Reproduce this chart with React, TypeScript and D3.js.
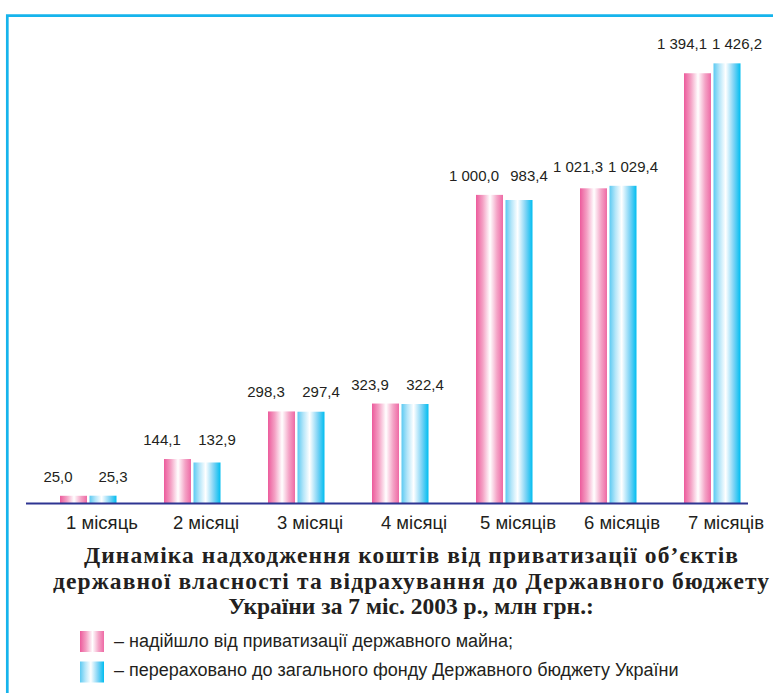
import React from 'react';
import * as d3 from 'd3';

const WIDTH = 774;
const HEIGHT = 693;

// дані з діаграми, млн грн
const months = ['1 місяць', '2 місяці', '3 місяці', '4 місяці', '5 місяців', '6 місяців', '7 місяців'];
const received = [25.0, 144.1, 298.3, 323.9, 1000.0, 1021.3, 1394.1];
const transferred = [25.3, 132.9, 297.4, 322.4, 983.4, 1029.4, 1426.2];

const titleLines = [
  'Динаміка надходження коштів від приватизації об’єктів',
  'державної власності та відрахування до  Державного бюджету',
  'України за 7 міс. 2003 р., млн грн.:',
];
// ширина рядків заголовка в оригіналі (останній рядок — природна)
const titleWidths = [654, 716, undefined];
const legendLabels = [
  '– надійшло від приватизації державного майна;',
  '– перераховано до загального фонду Державного бюджету України',
];

const frameColor = '#16b4ec';
const axisColor = '#2e3592';
const textColor = '#231f20';
const sans = '"Liberation Sans", Arial, sans-serif';
const serif = '"Liberation Serif", "Times New Roman", serif';

const fmt = d3
  .formatLocale({ decimal: ',', thousands: ' ', grouping: [3], currency: ['', ''] })
  .format(',.1f');

const BASE = 503.5;
const BAR_W = 27;

const App = () => {
  const xScale = d3.scaleBand<string>().domain(months).range([36, 764]);
  const yScale = d3.scaleLinear().domain([0, 1450]).range([BASE, 56]);

  const half = xScale.bandwidth() / 2;

  return (
    <svg
      width={WIDTH}
      height={HEIGHT}
      viewBox={`0 0 ${WIDTH} ${HEIGHT}`}
      style={{ position: 'absolute', left: 0, top: 0, background: '#fff' }}
    >
      <defs>
        <linearGradient id="pinkGrad" x1="0" x2="1" y1="0" y2="0">
          <stop offset="0%" stopColor="#ec5b9c" />
          <stop offset="25%" stopColor="#f4a0c4" />
          <stop offset="52%" stopColor="#ffffff" />
          <stop offset="78%" stopColor="#f4a3c6" />
          <stop offset="100%" stopColor="#ee6aa5" />
        </linearGradient>
        <linearGradient id="blueGrad" x1="0" x2="1" y1="0" y2="0">
          <stop offset="0%" stopColor="#5ccaf2" />
          <stop offset="22%" stopColor="#b5e6f9" />
          <stop offset="45%" stopColor="#ffffff" />
          <stop offset="75%" stopColor="#7dd3f5" />
          <stop offset="100%" stopColor="#00bdf0" />
        </linearGradient>
      </defs>

      {/* рамка */}
      <path d={`M7.3,${HEIGHT} V15.7 H773`} fill="none" stroke={frameColor} strokeWidth={2.7} />

      {months.map((m, i) => {
        const c = (xScale(m) as number) + half;
        const top = Math.min(yScale(received[i]), yScale(transferred[i]));
        return (
          <g key={m}>
            <rect
              x={c - BAR_W - 1}
              y={yScale(received[i])}
              width={BAR_W}
              height={BASE - yScale(received[i])}
              fill="url(#pinkGrad)"
            />
            <rect
              x={c + 1.5}
              y={yScale(transferred[i])}
              width={BAR_W}
              height={BASE - yScale(transferred[i])}
              fill="url(#blueGrad)"
            />
            <text
              x={c - 30}
              y={top - 14}
              textAnchor="middle"
              fontFamily={sans}
              fontSize={15}
              fill={textColor}
            >
              {fmt(received[i])}
            </text>
            <text
              x={c + 25}
              y={top - 14}
              textAnchor="middle"
              fontFamily={sans}
              fontSize={15}
              fill={textColor}
            >
              {fmt(transferred[i])}
            </text>
            <text
              x={c + 14}
              y={529}
              textAnchor="middle"
              fontFamily={sans}
              fontSize={18.5}
              fill={textColor}
            >
              {m}
            </text>
          </g>
        );
      })}

      <line x1={26} x2={748} y1={BASE} y2={BASE} stroke={axisColor} strokeWidth={2} />

      {titleLines.map((t, i) => (
        <text
          key={t}
          x={411}
          y={563 + i * 25.5}
          textAnchor="middle"
          fontFamily={serif}
          fontWeight="bold"
          fontSize={23.5}
          textLength={titleWidths[i]}
          lengthAdjust={titleWidths[i] ? 'spacing' : undefined}
          fill={textColor}
        >
          {t}
        </text>
      ))}

      {legendLabels.map((t, i) => (
        <g key={t} transform={`translate(0, ${i * 30.5})`}>
          <rect
            x={80}
            y={631}
            width={24}
            height={21}
            fill={i === 0 ? 'url(#pinkGrad)' : 'url(#blueGrad)'}
          />
          <text x={114} y={647 - i * 1.5} fontFamily={sans} fontSize={18} fill={textColor}>
            {t}
          </text>
        </g>
      ))}
    </svg>
  );
};

export default App;
